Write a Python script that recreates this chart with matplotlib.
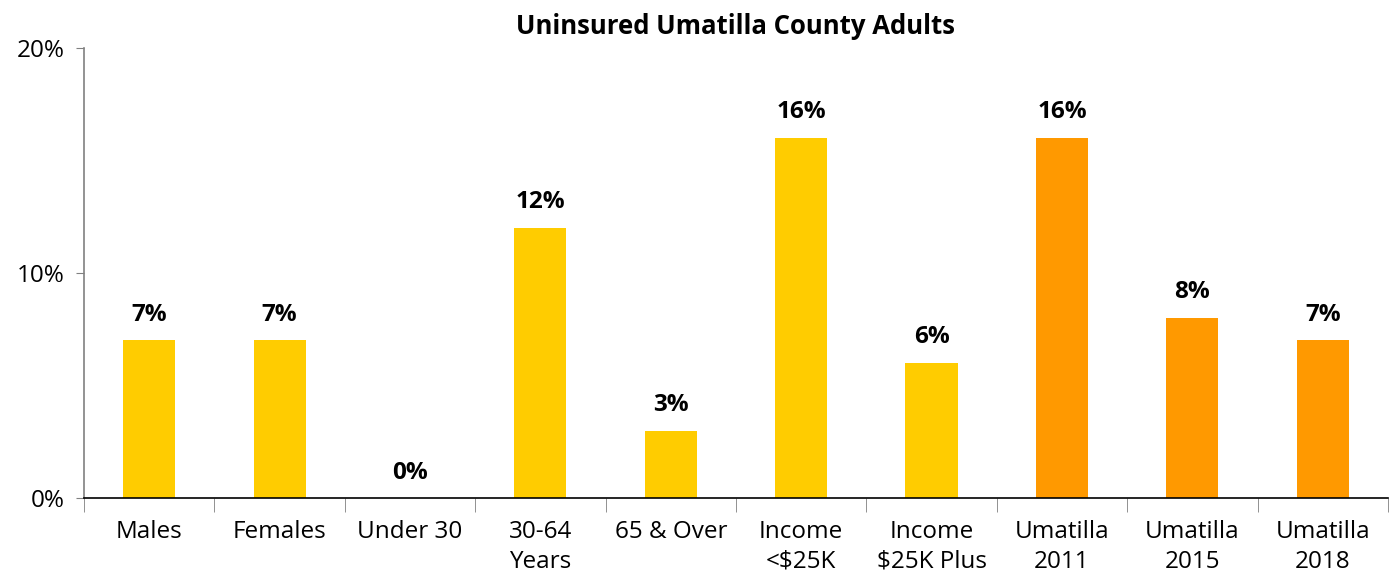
import matplotlib.pyplot as plt
import numpy as np

plt.rcParams['font.family'] = ['Open Sans', 'DejaVu Sans']

categories = ["Males", "Females", "Under 30", "30-64\nYears", "65 & Over",
              "Income\n<$25K", "Income\n$25K Plus", "Umatilla\n2011",
              "Umatilla\n2015", "Umatilla\n2018"]
values = [7, 7, 0, 12, 3, 16, 6, 16, 8, 7]
colors = ["#FFCC00"] * 7 + ["#FF9900"] * 3

fig = plt.figure(figsize=(14, 5.78), dpi=100)
ax = fig.add_axes([0.06, 0.1384, 0.9314, 0.7786])

x = np.arange(len(categories))
bars = ax.bar(x, values, width=0.4, color=colors, zorder=2)
for xi, v in zip(x, values):
    ax.text(xi, v + 0.6, f"{v}%", ha="center", va="bottom",
            fontsize=17.5, fontweight="bold")

ax.set_xlim(-0.5, len(categories) - 0.5)
ax.set_ylim(0, 20)
ax.set_yticks([0, 10, 20])
ax.set_yticklabels(["0%", "10%", "20%"], fontsize=17.5)
ax.set_xticks(x)
ax.set_xticklabels(categories, fontsize=17.5, linespacing=1.3)
ax.tick_params(axis="x", length=0, pad=16)
ax.set_xticks(np.arange(len(categories) + 1) - 0.5, minor=True)
ax.tick_params(axis="x", which="minor", length=10, color="#808080")
ax.tick_params(axis="y", length=6, color="#808080", pad=8)

ax.spines["top"].set_visible(False)
ax.spines["right"].set_visible(False)
ax.spines["left"].set_color("#808080")
ax.spines["left"].set_linewidth(1.2)
ax.spines["bottom"].set_color("black")
ax.spines["bottom"].set_linewidth(1.2)

ax.set_title("Uninsured Umatilla County Adults", fontsize=18.5,
             fontweight="bold", pad=10)

fig.savefig("out.png")
